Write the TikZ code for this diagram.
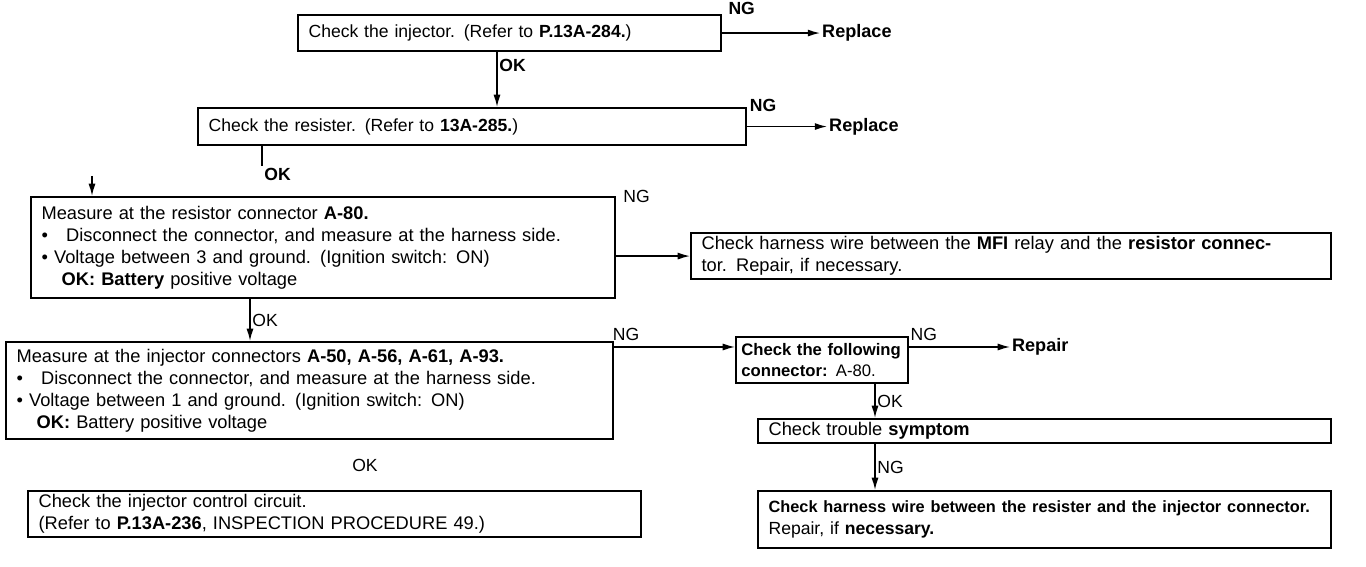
\documentclass[tikz,border=0pt]{standalone}
\usepackage{fontspec}
\setmainfont{Liberation Sans}
\usetikzlibrary{arrows.meta, positioning, calc}

\newcommand{\widespace}{\spaceskip=0.42em plus 0.1em\relax}

\tikzset{
  box/.style={draw, line width=1.2pt, anchor=north west, align=left, inner xsep=6pt, inner ysep=2pt, font=\fontsize{10}{12.5}\selectfont},
  wide/.style={font=\fontsize{10.4}{12.5}\selectfont\widespace},
  flow/.style={line width=0.8pt, -{Latex[length=7pt,width=4pt]}},
  tag/.style={font=\fontsize{10}{12}\selectfont, inner sep=1pt},
  outcome/.style={font=\bfseries\fontsize{10.3}{13}\selectfont, anchor=west, inner sep=1pt}
}

\begin{document}
\begin{tikzpicture}[x=0.02cm, y=-0.02cm]
  \useasboundingbox (0,0) rectangle (1366,567);

  % left column
  \node[box, text width=8.04cm, minimum height=0.72cm] (inj) at (297,14)
    {Check the injector. (Refer to \textbf{P.13A-284.})};
  \node[box, text width=10.54cm, minimum height=0.74cm] (res) at (197,107)
    {Check the resister. (Refer to \textbf{13A-285.})};
  \node[box, wide, text width=11.26cm, minimum height=2.02cm] (meas) at (30,196)
    {Measure at the resistor connector \textbf{A-80.}\\
     \textbullet\ \ \ Disconnect the connector, and measure at the harness side.\\
     \textbullet\ Voltage between 3 and ground. (Ignition switch: ON)\\
     \hspace*{1.1em}\textbf{OK: Battery} positive voltage};
  \node[box, wide, text width=11.72cm, minimum height=1.94cm] (injm) at (5,341)
    {Measure at the injector connectors \textbf{A-50, A-56, A-61, A-93.}\\
     \textbullet\ \ \ Disconnect the connector, and measure at the harness side.\\
     \textbullet\ Voltage between 1 and ground. (Ignition switch: ON)\\
     \hspace*{1.1em}\textbf{OK:} Battery positive voltage};
  \node[box, wide, text width=11.84cm, minimum height=0.9cm] (ctrl) at (27,490)
    {Check the injector control circuit.\\
     (Refer to \textbf{P.13A-236}, INSPECTION PROCEDURE 49.)};
  \node[tag] (okc) at (365,465) {OK};

  % right column
  \node[box, wide, text width=12.38cm, minimum height=0.8cm] (harn) at (690,232)
    {Check harness wire between the \textbf{MFI} relay and the \textbf{resistor connec-}\\
     tor. Repair, if necessary.};
  \node[box, text width=3.22cm, inner xsep=3pt, minimum height=0.92cm, font=\bfseries\fontsize{9.5}{12}\selectfont] (foll) at (735,336)
    {\makebox[\linewidth][s]{Check the following}\\connector: \mdseries A-80.};
  \node[box, wide, text width=11.04cm, minimum height=0.44cm] (symp) at (757,418)
    {Check trouble \textbf{symptom}};
  \node[box, text width=11.04cm, minimum height=1.14cm] (final) at (757,490)
    {{\bfseries\fontsize{9.3}{12.5}\selectfont Check harness wire between the resister and the injector connector.}\\
     Repair, if \textbf{necessary.}};

  \coordinate (x1) at (497,0);
  \coordinate (x2) at (262,0);
  \coordinate (x3) at (250,0);
  \coordinate (x5) at (875,0);
  \coordinate (x6) at (1010,0);
  \coordinate (in3) at (92,176);
  \coordinate (ng4) at ([yshift=-0.22cm]foll.north west);

  \node[outcome, right=1.96cm of inj] (rep1) {Replace};
  \node[outcome, right=1.6cm of res] (rep2) {Replace};
  \node[outcome] (rep3) at (ng4 -| x6) {Repair};

  \draw[flow] (inj.east) -- node[tag, pos=0.2, above=9pt] {\textbf{NG}} (rep1.west);
  \draw[flow] (inj.south -| x1) -- node[tag, pos=0.25, right] {\textbf{OK}} (x1 |- res.north);
  \draw[flow] (res.east) -- node[tag, pos=0.2, above=7pt] {\textbf{NG}} (rep2.west);
  \draw[line width=0.8pt] (res.south -| x2) -- ++(0,20) node[tag, below right] {\textbf{OK}};
  \draw[flow] (in3) -- (in3 |- meas.north);
  \draw[flow] (meas.east |- harn.west) -- (harn.west);
  \node[tag, anchor=west] at ([xshift=3pt]meas.north east) {NG};
  \draw[flow] (meas.south -| x3) -- node[tag, right] {OK} (x3 |- injm.north);
  \draw[flow] (injm.east |- ng4) -- node[tag, pos=0.1, above=2pt] {NG} (ng4);
  \draw[flow] (foll.east |- ng4) -- node[tag, pos=0.15, above=2pt] {NG} (rep3.west);
  \draw[flow] (foll.south -| x5) -- node[tag, right] {OK} (x5 |- symp.north);
  \draw[flow] (symp.south -| x5) -- node[tag, right] {NG} (x5 |- final.north);
\end{tikzpicture}
\end{document}
